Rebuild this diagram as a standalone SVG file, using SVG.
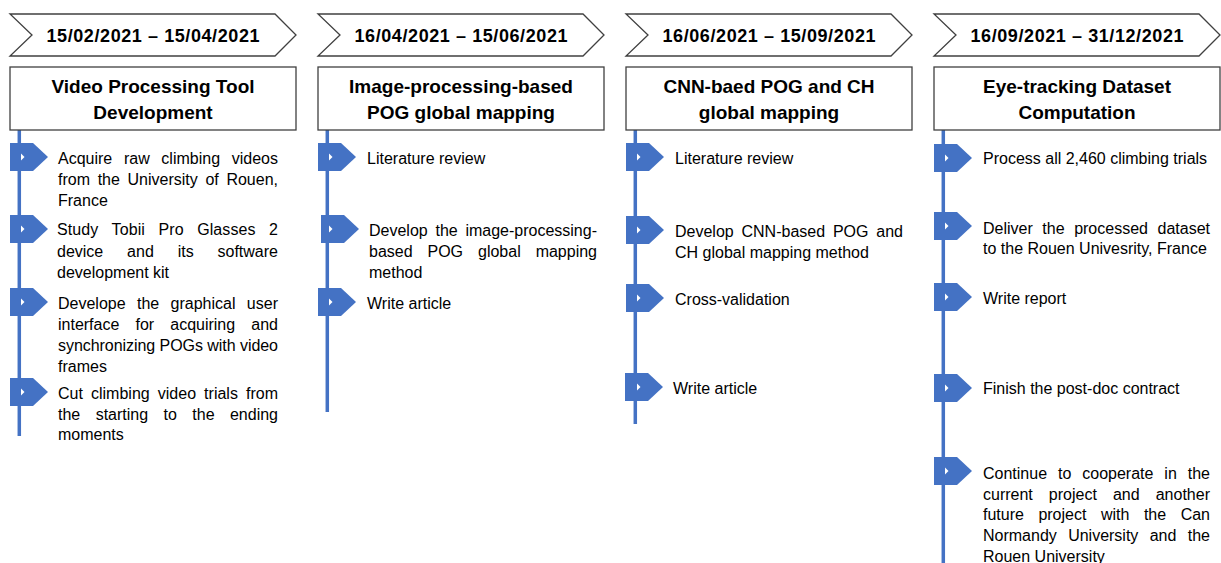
<svg xmlns="http://www.w3.org/2000/svg" width="1221" height="563" viewBox="0 0 1221 563">
<style>
  .hdr{fill:#fff;stroke:#404040;stroke-width:1.3}
  .box{fill:#fff;stroke:#404040;stroke-width:1.3}
  .date{font-family:"Liberation Sans",Arial,sans-serif;font-weight:bold;font-size:18px;fill:#000;text-anchor:middle}
  .title{font-family:"Liberation Sans",Arial,sans-serif;font-weight:bold;font-size:19px;fill:#000;text-anchor:middle}
  .t{font-family:"Liberation Sans",Arial,sans-serif;font-size:16px;fill:#000}
  .mk{fill:#4472C4}
  .notch{fill:#fff}
  .tl{stroke:#4472C4;stroke-width:3.5;fill:none}
</style>
<defs>
  <polygon id="hdrShape" class="hdr" points="0,0 265,0 286,21 265,42 0,42 22,21"/>
  <polygon id="mkShape" class="mk" points="0,-14 23,-14 38,0 23,14 0,14"/>
</defs>

<g id="connectors">
  <line class="tl" x1="19.3" y1="130" x2="19.3" y2="436"/>
  <line class="tl" x1="327.3" y1="130" x2="327.3" y2="412"/>
  <line class="tl" x1="635.3" y1="130" x2="635.3" y2="424"/>
  <line class="tl" x1="943.3" y1="130" x2="943.3" y2="563"/>
</g>

<!-- Column 1 -->
<g id="col1-header">
  <use href="#hdrShape" x="10" y="14"/>
  <text class="date" x="153" y="41.5" textLength="213">15/02/2021 – 15/04/2021</text>
</g>
<g id="col1-title">
  <rect class="box" x="10" y="67" width="286" height="63"/>
  <text class="title" x="153" y="92.5">Video Processing Tool</text>
  <text class="title" x="153" y="119">Development</text>
</g>
<g id="col1-task1">
  <use href="#mkShape" x="10" y="157"/>
  <polygon class="notch" points="21,153.5 24.5,157 21,160.5"/>
  <text class="t" x="58" y="164" word-spacing="7.2" textLength="220" lengthAdjust="spacing">Acquire raw climbing videos</text>
  <text class="t" x="58" y="185" word-spacing="3.2" textLength="220" lengthAdjust="spacing">from the University of Rouen,</text>
  <text class="t" x="58" y="206">France</text>
</g>
<g id="col1-task2">
  <use href="#mkShape" x="10" y="229"/>
  <polygon class="notch" points="21,225.5 24.5,229 21,232.5"/>
  <text class="t" x="57" y="235" word-spacing="9" textLength="221" lengthAdjust="spacing">Study Tobii Pro Glasses 2</text>
  <text class="t" x="57" y="256.5" word-spacing="19.4" textLength="221" lengthAdjust="spacing">device and its software</text>
  <text class="t" x="57" y="277.5">development kit</text>
</g>
<g id="col1-task3">
  <use href="#mkShape" x="10" y="302"/>
  <polygon class="notch" points="21,298.5 24.5,302 21,305.5"/>
  <text class="t" x="58" y="308.5" word-spacing="6.9" textLength="220" lengthAdjust="spacing">Develope the graphical user</text>
  <text class="t" x="58" y="329.5" word-spacing="11.7" textLength="220" lengthAdjust="spacing">interface for acquiring and</text>
  <text class="t" x="58" y="350.5" textLength="220" lengthAdjust="spacing">synchronizing POGs with video</text>
  <text class="t" x="58" y="371.5">frames</text>
</g>
<g id="col1-task4">
  <use href="#mkShape" x="10" y="392"/>
  <polygon class="notch" points="21,388.5 24.5,392 21,395.5"/>
  <text class="t" x="58" y="398.5" word-spacing="3.6" textLength="220" lengthAdjust="spacing">Cut climbing video trials from</text>
  <text class="t" x="58" y="419.5" word-spacing="11" textLength="220" lengthAdjust="spacing">the starting to the ending</text>
  <text class="t" x="58" y="440">moments</text>
</g>

<!-- Column 2 -->
<g id="col2-header">
  <use href="#hdrShape" x="318" y="14"/>
  <text class="date" x="461" y="41.5" textLength="213">16/04/2021 – 15/06/2021</text>
</g>
<g id="col2-title">
  <rect class="box" x="318" y="67" width="286" height="63"/>
  <text class="title" x="461" y="92.5">Image-processing-based</text>
  <text class="title" x="461" y="119">POG global mapping</text>
</g>
<g id="col2-task1">
  <use href="#mkShape" x="318" y="157"/>
  <polygon class="notch" points="329,153.5 332.5,157 329,160.5"/>
  <text class="t" x="367" y="164">Literature review</text>
</g>
<g id="col2-task2">
  <use href="#mkShape" x="321" y="229"/>
  <polygon class="notch" points="329,225.5 332.5,229 329,232.5"/>
  <text class="t" x="369" y="236" word-spacing="3.3" textLength="228" lengthAdjust="spacing">Develop the image-processing-</text>
  <text class="t" x="369" y="257" word-spacing="10.5" textLength="228" lengthAdjust="spacing">based POG global mapping</text>
  <text class="t" x="369" y="278">method</text>
</g>
<g id="col2-task3">
  <use href="#mkShape" x="318" y="302"/>
  <polygon class="notch" points="329,298.5 332.5,302 329,305.5"/>
  <text class="t" x="367" y="308.5">Write article</text>
</g>

<!-- Column 3 -->
<g id="col3-header">
  <use href="#hdrShape" x="626" y="14"/>
  <text class="date" x="769" y="41.5" textLength="213">16/06/2021 – 15/09/2021</text>
</g>
<g id="col3-title">
  <rect class="box" x="626" y="67" width="286" height="63"/>
  <text class="title" x="769" y="92.5">CNN-baed POG and CH</text>
  <text class="title" x="769" y="119">global mapping</text>
</g>
<g id="col3-task1">
  <use href="#mkShape" x="626" y="157"/>
  <polygon class="notch" points="637,153.5 640.5,157 637,160.5"/>
  <text class="t" x="675" y="164">Literature review</text>
</g>
<g id="col3-task2">
  <use href="#mkShape" x="626" y="230"/>
  <polygon class="notch" points="637,226.5 640.5,230 637,233.5"/>
  <text class="t" x="675" y="237" word-spacing="3.4" textLength="228" lengthAdjust="spacing">Develop CNN-based POG and</text>
  <text class="t" x="675" y="258">CH global mapping method</text>
</g>
<g id="col3-task3">
  <use href="#mkShape" x="626" y="298"/>
  <polygon class="notch" points="637,294.5 640.5,298 637,301.5"/>
  <text class="t" x="675" y="305">Cross-validation</text>
</g>
<g id="col3-task4">
  <use href="#mkShape" x="625" y="387"/>
  <polygon class="notch" points="637,383.5 640.5,387 637,390.5"/>
  <text class="t" x="673" y="394">Write article</text>
</g>

<!-- Column 4 -->
<g id="col4-header">
  <use href="#hdrShape" x="934" y="14"/>
  <text class="date" x="1077" y="41.5" textLength="213">16/09/2021 – 31/12/2021</text>
</g>
<g id="col4-title">
  <rect class="box" x="934" y="67" width="286" height="63"/>
  <text class="title" x="1077" y="92.5">Eye-tracking Dataset</text>
  <text class="title" x="1077" y="119">Computation</text>
</g>
<g id="col4-task1">
  <use href="#mkShape" x="934" y="158"/>
  <polygon class="notch" points="945,154.5 948.5,158 945,161.5"/>
  <text class="t" x="983" y="164">Process all 2,460 climbing trials</text>
</g>
<g id="col4-task2">
  <use href="#mkShape" x="934" y="226"/>
  <polygon class="notch" points="945,222.5 948.5,226 945,229.5"/>
  <text class="t" x="983" y="233.5" word-spacing="5.1" textLength="227" lengthAdjust="spacing">Deliver the processed dataset</text>
  <text class="t" x="983" y="254">to the Rouen Univesrity, France</text>
</g>
<g id="col4-task3">
  <use href="#mkShape" x="934" y="297"/>
  <polygon class="notch" points="945,293.5 948.5,297 945,300.5"/>
  <text class="t" x="983" y="304">Write report</text>
</g>
<g id="col4-task4">
  <use href="#mkShape" x="934" y="388"/>
  <polygon class="notch" points="945,384.5 948.5,388 945,391.5"/>
  <text class="t" x="983" y="394">Finish the post-doc contract</text>
</g>
<g id="col4-task5">
  <use href="#mkShape" x="934" y="471"/>
  <polygon class="notch" points="945,467.5 948.5,471 945,474.5"/>
  <text class="t" x="983" y="478.5" word-spacing="6.5" textLength="227" lengthAdjust="spacing">Continue to cooperate in the</text>
  <text class="t" x="983" y="499.5" word-spacing="11.6" textLength="227" lengthAdjust="spacing">current project and another</text>
  <text class="t" x="983" y="520" word-spacing="10.1" textLength="227" lengthAdjust="spacing">future project with the Can</text>
  <text class="t" x="983" y="541" word-spacing="6.9" textLength="227" lengthAdjust="spacing">Normandy University and the</text>
  <text class="t" x="983" y="561.5">Rouen University</text>
</g>
</svg>
